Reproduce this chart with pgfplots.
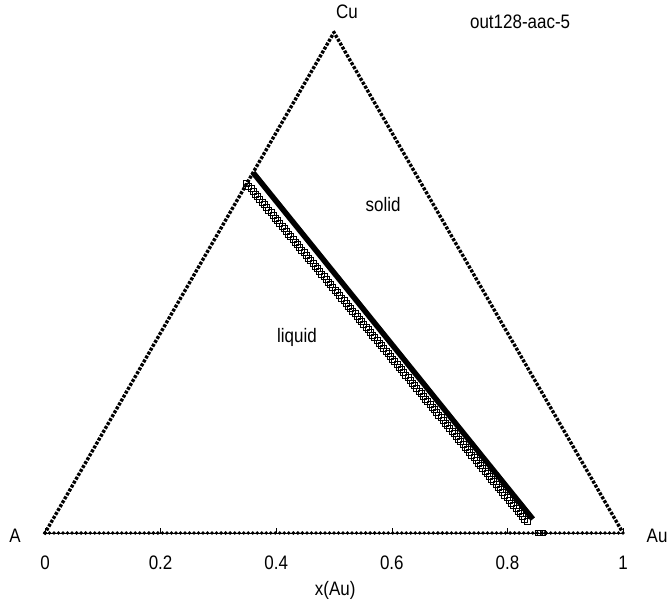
\documentclass[border=0pt]{standalone}
\usepackage{pgfplots}
\pgfplotsset{compat=1.18}
\usepackage{fontspec}
\setmainfont{Liberation Sans}[FakeStretch=0.87]
\usetikzlibrary{decorations.markings}
\tikzset{
  edgemarks/.style={decoration={markings,
    mark=between positions 0 and 1 step 4.5156bp with {\pgftransformresetnontranslations
      \pgfpathmoveto{\pgfqpoint{0bp}{#1}}\pgfpathlineto{\pgfqpoint{#1}{0bp}}%
      \pgfpathlineto{\pgfqpoint{0bp}{-#1}}\pgfpathlineto{\pgfqpoint{-#1}{0bp}}%
      \pgfpathclose\pgfusepath{fill}}},
    postaction={decorate}},
  edgedots/.style={decoration={markings,
    mark=between positions 0 and 1 step 4.5156bp with {%
      \pgfpathrectangle{\pgfqpoint{-1.5bp}{-1.7bp}}{\pgfqpoint{3bp}{3.4bp}}%
      \pgfusepath{fill}}},
    postaction={decorate}},
  squarechain/.style={decoration={markings,
    mark=between positions 0 and 1 step 3.46bp with {\pgftransformresetnontranslations
      \pgfsetlinewidth{1bp}%
      \pgfpathrectangle{\pgfqpoint{-3bp}{-3bp}}{\pgfqpoint{6bp}{6bp}}%
      \pgfusepath{stroke}}},
    postaction={decorate}},
}
\begin{document}
\begin{tikzpicture}[font=\fontsize{19.5bp}{22bp}\selectfont]
\useasboundingbox (0bp,0bp) rectangle (672bp,608bp);
\begin{axis}[
  at={(45bp,75bp)}, anchor=south west,
  scale only axis, width=578bp, height=500.55bp,
  xmin=0, xmax=1, ymin=0, ymax=0.866,
  clip=false,
  hide y axis,
  axis x line*=bottom,
  x axis line style={draw=none},
  xtick={0,0.2,0.4,0.6,0.8,1},
  xticklabels={0,0.2,0.4,0.6,0.8,1},
  tick align=inside,
  major tick length=5bp,
  every tick/.style={black, line width=0.5bp},
  minor tick num=0,
  xticklabel style={anchor=center, yshift=-30bp},
]
% triangle edges
\addplot[draw=none, edgedots] coordinates {(0,0) (0.5,0.866)};
\addplot[draw=none, edgedots] coordinates {(0.5,0.866) (1,0)};
\addplot[black, line width=0.8bp, edgemarks=1.9bp] coordinates {(0,0) (1,0)};
% solid phase composition
\addplot[black, line width=5.5bp] coordinates {(0.360,0.6235) (0.602,0.324) (0.844,0.024)};
% liquid phase composition
\addplot[draw=none, squarechain] coordinates {(0.349,0.6045) (0.592,0.312) (0.834,0.019)};
% points on the base
\addplot[only marks, mark=square, mark size=2.6bp, line width=1bp] coordinates {(0.853,0) (0.857,0) (0.861,0)};
\addplot[only marks, mark=diamond*, mark size=2.5bp] coordinates {(0.866,0)};
% labels
\node at (axis cs:-0.052,-0.005) {A};
\node at (axis cs:1.059,-0.005) {Au};
\node at (axis cs:0.5225,0.901) {Cu};
\node at (axis cs:0.822,0.884) {out128-aac-5};
\node at (axis cs:0.585,0.569) {solid};
\node at (axis cs:0.436,0.339) {liquid};
\node at (axis cs:0.502,-0.0986) {x(Au)};
\end{axis}
\end{tikzpicture}
\end{document}
